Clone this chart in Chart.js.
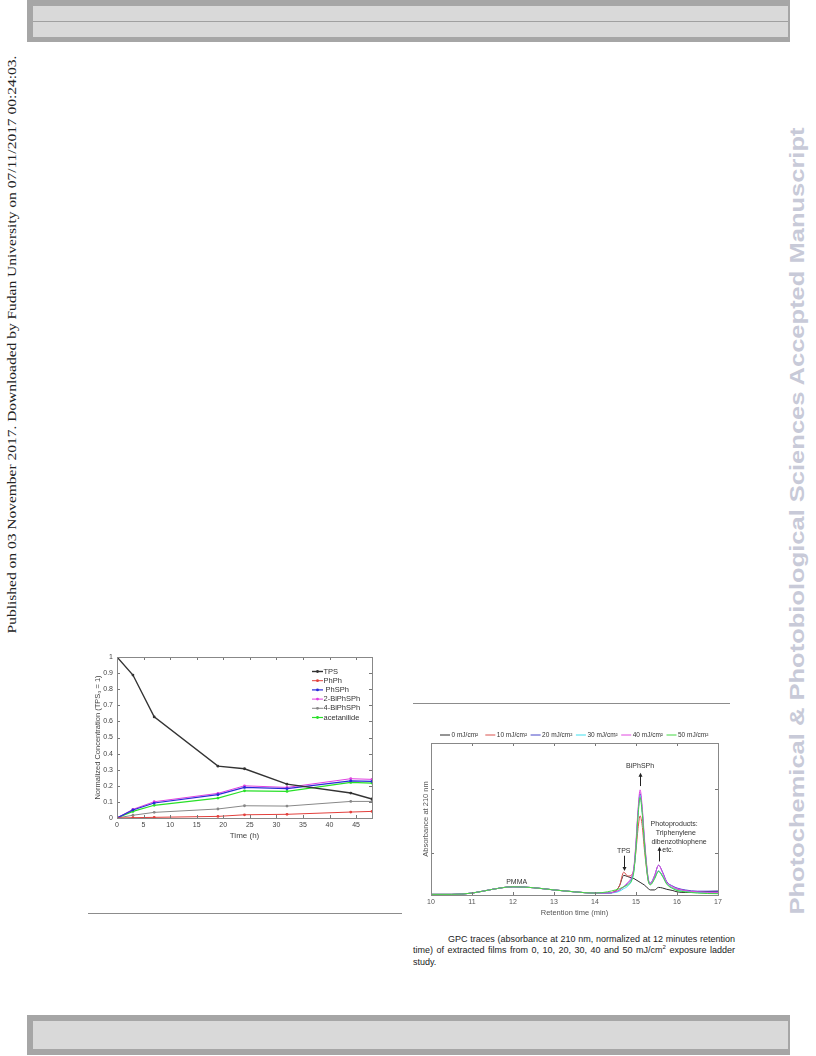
<!DOCTYPE html>
<html><head><meta charset="utf-8">
<script src="https://cdn.jsdelivr.net/npm/chart.js@4.4.1/dist/chart.umd.min.js"></script>
<style>
html,body{margin:0;padding:0;background:#fff;}
#page{position:relative;width:816px;height:1056px;overflow:hidden;font-family:"Liberation Sans",Arial,sans-serif;}
.outer{position:absolute;left:27px;width:763px;background:#a6a6a6;}
.inner{position:absolute;left:6px;right:2px;background:#d9d9d9;}
.rule{position:absolute;height:1px;background:#8c8c8c;}
.vtext{position:absolute;white-space:nowrap;transform-origin:center center;}
#cap{position:absolute;left:413px;top:934px;width:322px;font-size:9px;line-height:11.4px;color:#222;font-family:"Liberation Sans",Arial,sans-serif;}
#cap .cl{white-space:nowrap;height:11.4px;}
#cap .cl span{display:inline-block;transform-origin:left center;}
canvas{position:absolute;}
</style></head>
<body><div id="page">
<div class="outer" style="top:0;height:42px;"><div class="inner" style="top:6px;height:31px;"></div><div style="position:absolute;left:6px;right:2px;top:21px;height:1px;background:#a0a0a0;"></div></div>
<div class="outer" style="top:1015px;height:40px;"><div class="inner" style="top:6px;height:28px;"></div></div>
<div id="lt" class="vtext" style="font-family:'Liberation Serif','Times New Roman',serif;font-size:12px;color:#222;">Published on 03 November 2017. Downloaded by Fudan University on 07/11/2017 00:24:03.</div>
<div id="rt" class="vtext" style="font-family:'Liberation Sans',Arial,sans-serif;font-weight:bold;font-size:21px;color:#c8cad8;">Photochemical &amp; Photobiological Sciences Accepted Manuscript</div>
<div class="rule" style="left:88px;top:913px;width:314px;"></div>
<div class="rule" style="left:413px;top:703px;width:317px;"></div>
<canvas id="c1" width="320" height="230" style="left:85px;top:645px;"></canvas>
<canvas id="c2" width="330" height="200" style="left:405px;top:725px;"></canvas>
<div id="cap">
<div class="cl" data-indent="35" data-just="1"><span>GPC traces (absorbance at 210 nm, normalized at 12 minutes retention</span></div>
<div class="cl" data-indent="0" data-just="1"><span>time) of extracted films from 0, 10, 20, 30, 40 and 50 mJ/cm<sup style="font-size:6px;line-height:0;">2</sup> exposure ladder</span></div>
<div class="cl" data-indent="0" data-just="0"><span>study.</span></div>
</div>
</div>
<script>
// ---------- Data: concentration vs time ----------
const concTime = [0, 3, 7, 19, 24, 32, 44, 48];
const concLabels = ['TPS', 'PhPh', 'PhSPh', '2-BiPhSPh', '4-BiPhSPh', 'acetanilide'];
const tpsVals = [1.0, 0.888, 0.628, 0.322, 0.306, 0.21, 0.155, 0.118];
const phphVals = [0, 0.002, 0.004, 0.01, 0.02, 0.023, 0.037, 0.041];
const phsphVals = [0, 0.05, 0.093, 0.145, 0.19, 0.182, 0.231, 0.227];
const biphsph2Vals = [0, 0.054, 0.101, 0.153, 0.2, 0.19, 0.244, 0.24];
const biphsph4Vals = [0, 0.017, 0.035, 0.056, 0.076, 0.074, 0.103, 0.103];
const acetanilideVals = [0, 0.041, 0.079, 0.124, 0.169, 0.165, 0.221, 0.217];
const concXTicks = [0, 5, 10, 15, 20, 25, 30, 35, 40, 45];
const concYTicks = [0, 0.1, 0.2, 0.3, 0.4, 0.5, 0.6, 0.7, 0.8, 0.9, 1];

// ---------- Data: GPC traces ----------
const gpcTime = [10, 10.5, 11, 11.5, 12, 12.5, 13, 13.5, 14, 14.3, 14.5, 14.6, 14.7, 14.8, 14.9, 14.95, 15.0, 15.05, 15.1, 15.15, 15.2, 15.25, 15.3, 15.35, 15.45, 15.55, 15.65, 15.75, 15.9, 16.0, 16.2, 16.5, 17];
const gpcLabels = ['0 mJ/cm²', '10 mJ/cm²', '20 mJ/cm²', '30 mJ/cm²', '40 mJ/cm²', '50 mJ/cm²'];
const gpc0 =  [0.01, 0.01, 0.03, 0.09, 0.13, 0.115, 0.08, 0.05, 0.03, 0.03, 0.06, 0.15, 0.31, 0.29, 0.27, 0.26, 0.24, 0.22, 0.2, 0.18, 0.16, 0.13, 0.1, 0.08, 0.08, 0.12, 0.11, 0.09, 0.07, 0.05, 0.04, 0.05, 0.06];
const gpc10 = [0.01, 0.01, 0.03, 0.09, 0.13, 0.115, 0.08, 0.05, 0.03, 0.03, 0.07, 0.15, 0.36, 0.30, 0.32, 0.42, 0.7, 1.05, 1.25, 1.1, 0.75, 0.45, 0.22, 0.17, 0.27, 0.38, 0.3, 0.18, 0.11, 0.09, 0.07, 0.04, 0.03];
const gpc20 = [0.01, 0.01, 0.03, 0.09, 0.13, 0.115, 0.08, 0.05, 0.03, 0.03, 0.05, 0.08, 0.13, 0.18, 0.27, 0.42, 0.8, 1.3, 1.6, 1.35, 0.9, 0.52, 0.25, 0.19, 0.3, 0.47, 0.36, 0.21, 0.14, 0.11, 0.08, 0.06, 0.06];
const gpc30 = [0.01, 0.01, 0.03, 0.09, 0.13, 0.115, 0.08, 0.05, 0.03, 0.03, 0.04, 0.06, 0.1, 0.14, 0.24, 0.4, 0.78, 1.28, 1.58, 1.33, 0.88, 0.5, 0.23, 0.17, 0.26, 0.38, 0.3, 0.18, 0.11, 0.08, 0.06, 0.04, 0.03];
const gpc40 = [0.01, 0.01, 0.03, 0.09, 0.13, 0.115, 0.08, 0.05, 0.03, 0.03, 0.05, 0.08, 0.13, 0.2, 0.3, 0.45, 0.85, 1.35, 1.66, 1.4, 0.95, 0.55, 0.25, 0.18, 0.3, 0.47, 0.35, 0.2, 0.13, 0.1, 0.07, 0.05, 0.04];
const gpc50 = [0.01, 0.01, 0.03, 0.09, 0.13, 0.115, 0.08, 0.05, 0.03, 0.05, 0.08, 0.1, 0.13, 0.16, 0.24, 0.38, 0.75, 1.25, 1.54, 1.3, 0.86, 0.48, 0.22, 0.16, 0.25, 0.37, 0.29, 0.17, 0.1, 0.07, 0.05, 0.03, 0.02];
const gpcXTicks = [10, 11, 12, 13, 14, 15, 16, 17];
const gpcYTicks = [0.67, 1.67];

Chart.defaults.font.family = "'Liberation Sans','DejaVu Sans',Arial,sans-serif";
Chart.defaults.color = '#444';

// inward ticks + box
const boxTicks = {
  id: 'boxTicks',
  afterDraw(chart, args, o) {
    const {ctx, chartArea: a, scales} = chart;
    ctx.save();
    ctx.strokeStyle = o.color; ctx.lineWidth = 1;
    ctx.beginPath();
    scales.x.ticks.forEach(t => {
      const p = Math.round(scales.x.getPixelForValue(t.value)) + 0.5;
      ctx.moveTo(p, a.bottom); ctx.lineTo(p, a.bottom - o.len);
      ctx.moveTo(p, a.top); ctx.lineTo(p, a.top + o.len);
    });
    scales.y.ticks.forEach(t => {
      const p = Math.round(scales.y.getPixelForValue(t.value)) + 0.5;
      ctx.moveTo(a.left, p); ctx.lineTo(a.left + o.len, p);
      ctx.moveTo(a.right, p); ctx.lineTo(a.right - o.len, p);
    });
    ctx.stroke();
    ctx.strokeStyle = o.boxColor || o.color;
    ctx.strokeRect(Math.round(a.left) + 0.5, Math.round(a.top) + 0.5, Math.round(a.right - a.left), Math.round(a.bottom - a.top));
    ctx.restore();
  }
};

// chart 1 legend inside plot
const legend1 = {
  id: 'legend1',
  afterDraw(chart) {
    const {ctx, chartArea: a} = chart;
    ctx.save();
    ctx.font = "7.5px 'Liberation Sans',Arial,sans-serif";
    ctx.textBaseline = 'middle';
    chart.data.datasets.forEach((d, i) => {
      const x = a.left + 195, y = a.top + 14.5 + i * 9.2;
      ctx.strokeStyle = d.borderColor; ctx.lineWidth = d.borderWidth;
      ctx.beginPath(); ctx.moveTo(x, y); ctx.lineTo(x + 11, y); ctx.stroke();
      ctx.fillStyle = d.borderColor;
      ctx.beginPath(); ctx.arc(x + 5.5, y, 1.4, 0, Math.PI * 2); ctx.fill();
      ctx.fillStyle = '#333';
      ctx.fillText(d.label, x + 11.5 + (i === 2 ? 2 : 0), y);
    });
    ctx.restore();
  }
};

function lineDs(label, xs, ys, color, w) {
  return {label, data: xs.map((x, i) => ({x, y: ys[i]})), borderColor: color, backgroundColor: color,
    borderWidth: w, pointRadius: 1.4, pointStyle: 'circle', pointBorderWidth: 0, tension: 0};
}

new Chart(document.getElementById('c1'), {
  type: 'line',
  data: {datasets: [
    lineDs(concLabels[0], concTime, tpsVals, '#333333', 1.4),
    lineDs(concLabels[1], concTime, phphVals, '#e2403c', 1),
    lineDs(concLabels[2], concTime, phsphVals, '#2a2ad8', 1.2),
    lineDs(concLabels[3], concTime, biphsph2Vals, '#e040e0', 1),
    lineDs(concLabels[4], concTime, biphsph4Vals, '#888888', 1),
    lineDs(concLabels[5], concTime, acetanilideVals, '#28e028', 1.2)
  ]},
  options: {
    responsive: false, animation: false, devicePixelRatio: 1,
    layout: {padding: {left: 6, top: 12, right: 33, bottom: 32}},
    plugins: {legend: {display: false}, tooltip: {enabled: false}, boxTicks: {len: 3, color: '#777', boxColor: '#888'}},
    scales: {
      x: {type: 'linear', min: 0, max: 48,
        afterBuildTicks: s => { s.ticks = concXTicks.map(v => ({value: v})); },
        afterFit: s => { s.height = 25; },
        grid: {display: false, drawTicks: false}, border: {display: false},
        ticks: {font: {size: 7}, color: '#444', padding: 3, maxRotation: 0, callback: v => String(Math.round(v * 10) / 10)},
        title: {display: true, text: 'Time (h)', font: {size: 8}, color: '#444', padding: {top: 0, bottom: 2}}},
      y: {min: 0, max: 1,
        afterBuildTicks: s => { s.ticks = concYTicks.map(v => ({value: v})); },
        afterFit: s => { s.width = 26; },
        grid: {display: false, drawTicks: false}, border: {display: false},
        ticks: {font: {size: 7}, color: '#444', padding: 4, callback: v => String(Math.round(v * 10) / 10)},
        title: {display: true, text: 'Normalized Concentration (TPS₀ = 1)', font: {size: 7.5}, color: '#444', padding: {top: 2, bottom: 0}}}
    }
  },
  plugins: [boxTicks, legend1]
});

// chart 2 legend row + annotations
const legend2 = {
  id: 'legend2',
  afterDraw(chart) {
    const {ctx, chartArea: a} = chart;
    ctx.save();
    ctx.font = "6.5px 'Liberation Sans','DejaVu Sans',Arial,sans-serif";
    ctx.textBaseline = 'middle';
    chart.data.datasets.forEach((d, i) => {
      const x = a.left + 9 + i * 45.3, y = 10;
      ctx.strokeStyle = d.borderColor; ctx.lineWidth = 1;
      ctx.beginPath(); ctx.moveTo(x, y); ctx.lineTo(x + 10, y); ctx.stroke();
      ctx.fillStyle = '#333';
      ctx.fillText(d.label, x + 11.5, y + 0.5);
    });
    ctx.restore();
  }
};
const annot2 = {
  id: 'annot2',
  afterDraw(chart) {
    const {ctx, scales: {x, y}} = chart;
    ctx.save();
    ctx.font = "7px 'Liberation Sans',Arial,sans-serif";
    ctx.fillStyle = '#333'; ctx.textBaseline = 'middle'; ctx.textAlign = 'center';
    const T = (s, tx, ty, al) => { ctx.textAlign = al || 'center'; ctx.fillText(s, x.getPixelForValue(tx), y.getPixelForValue(ty)); };
    const A = (tx, y0, y1) => {
      const px = Math.round(x.getPixelForValue(tx)) + 0.5, p0 = y.getPixelForValue(y0), p1 = y.getPixelForValue(y1);
      const dir = p1 < p0 ? 1 : -1;
      ctx.strokeStyle = '#222'; ctx.lineWidth = 1;
      ctx.beginPath(); ctx.moveTo(px, p0); ctx.lineTo(px, p1 + dir * 3); ctx.stroke();
      ctx.fillStyle = '#222';
      ctx.beginPath(); ctx.moveTo(px, p1); ctx.lineTo(px - 2, p1 + dir * 4); ctx.lineTo(px + 2, p1 + dir * 4); ctx.closePath(); ctx.fill();
      ctx.fillStyle = '#333';
    };
    T('BiPhSPh', 15.1, 2.03);
    A(15.1, 1.72, 1.93);
    T('TPS', 14.7, 0.69);
    A(14.7, 0.62, 0.38);
    T('Photoproducts:', 15.93, 1.115);
    T('Triphenylene', 15.97, 0.975);
    T('dibenzothiophene', 16.05, 0.84);
    T('etc.', 15.64, 0.71, 'left');
    A(15.56, 0.53, 0.76);
    T('PMMA', 12.09, 0.21);
    ctx.restore();
  }
};

function gpcDs(label, ys, color, order) {
  return {label, data: gpcTime.map((t, i) => ({x: t, y: ys[i]})), borderColor: color, backgroundColor: color,
    borderWidth: 1, pointRadius: 0, cubicInterpolationMode: 'monotone', order};
}

new Chart(document.getElementById('c2'), {
  type: 'line',
  data: {datasets: [
    gpcDs(gpcLabels[0], gpc0, '#2a2a2a', 5),
    gpcDs(gpcLabels[1], gpc10, '#d9534f', 4),
    gpcDs(gpcLabels[2], gpc20, '#4646c8', 3),
    gpcDs(gpcLabels[3], gpc30, '#3fe0ef', 2),
    gpcDs(gpcLabels[4], gpc40, '#e048e0', 1),
    gpcDs(gpcLabels[5], gpc50, '#44d844', 0)
  ]},
  options: {
    responsive: false, animation: false, devicePixelRatio: 1,
    layout: {padding: {left: 14, top: 18, right: 17, bottom: 6}},
    plugins: {legend: {display: false}, tooltip: {enabled: false}, boxTicks: {len: 3, color: '#777', boxColor: '#888'}},
    scales: {
      x: {type: 'linear', min: 10, max: 17,
        afterBuildTicks: s => { s.ticks = gpcXTicks.map(v => ({value: v})); },
        afterFit: s => { s.height = 24; },
        grid: {display: false, drawTicks: false}, border: {display: false},
        ticks: {font: {size: 7}, color: '#555', padding: 3, maxRotation: 0},
        title: {display: true, text: 'Retention time (min)', font: {size: 7.5}, color: '#555', padding: {top: 0, bottom: 2}}},
      y: {min: 0, max: 2.4,
        afterBuildTicks: s => { s.ticks = gpcYTicks.map(v => ({value: v})); },
        afterFit: s => { s.width = 12; },
        grid: {display: false, drawTicks: false}, border: {display: false},
        ticks: {display: false},
        title: {display: true, text: 'Absorbance at 210 nm', font: {size: 7.5}, color: '#555', padding: {top: 2, bottom: 0}}}
    }
  },
  plugins: [boxTicks, legend2, annot2]
});

// side texts: rotate and fit to measured span
function placeV(id, cx, cy, len) {
  const el = document.getElementById(id);
  const w = el.offsetWidth, h = el.offsetHeight;
  el.style.left = (cx - w / 2) + 'px';
  el.style.top = (cy - h / 2) + 'px';
  el.style.transform = 'rotate(-90deg) scaleX(' + (len / w) + ')';
}
placeV('lt', 13, 344, 578);
placeV('rt', 797, 521, 787);

// caption: justify each line to the column width
document.querySelectorAll('#cap .cl').forEach(line => {
  const ind = +line.dataset.indent;
  const span = line.querySelector('span');
  span.style.marginLeft = ind + 'px';
  if (line.dataset.just !== '1') return;
  const target = 322 - ind;
  const w = span.getBoundingClientRect().width;
  const spaces = (span.textContent.match(/ /g) || []).length;
  if (w <= target) {
    span.style.wordSpacing = ((target - w) / spaces) + 'px';
  } else {
    span.style.transform = 'scaleX(' + (target / w) + ')';
  }
});
</script>
</body></html>
